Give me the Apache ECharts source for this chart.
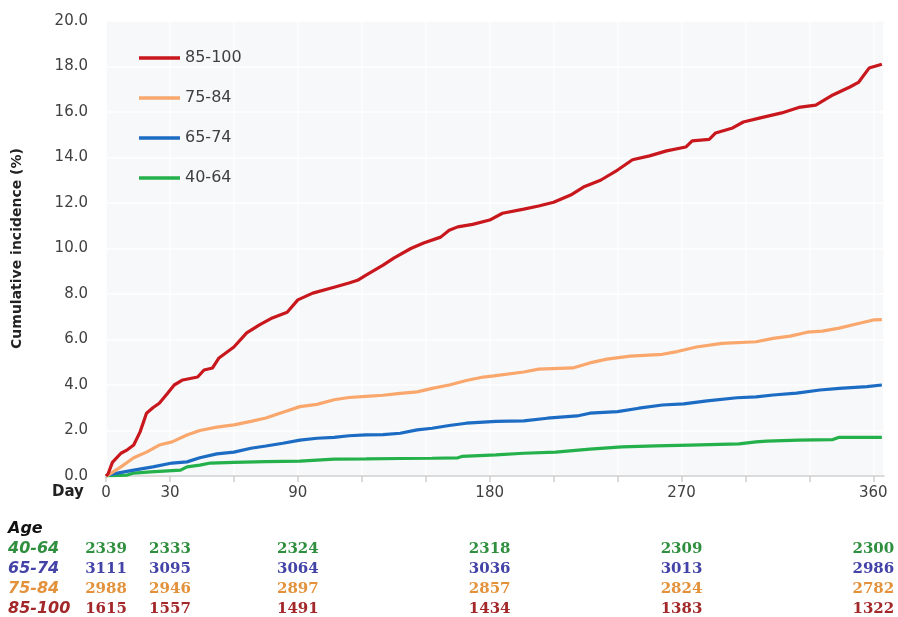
<!DOCTYPE html>
<html>
<head>
<meta charset="utf-8">
<script src="https://cdn.jsdelivr.net/npm/echarts@6/dist/echarts.min.js"></script>
<style>
  html, body { margin: 0; padding: 0; background: #fff; }
  #chart { width: 898px; height: 617px; }
</style>
</head>
<body>
<div id="chart"></div>
<script>
// cumulative incidence curves
const redDays = [0, 1, 3, 7, 10, 13, 16, 19, 22, 25, 29, 32, 36, 43, 46, 50, 53, 60, 66, 72, 78, 85, 90, 97, 107, 114, 118, 122, 130, 135, 143, 149, 157, 161, 165, 172, 180, 186, 196, 203, 210, 218, 224, 232, 240, 247, 255, 263, 272, 275, 283, 286, 294, 299, 307, 317, 325, 333, 341, 349, 353, 358, 364];
const redValues = [0, 0.1, 0.6, 1.0, 1.15, 1.36, 1.94, 2.76, 3.0, 3.2, 3.65, 4.0, 4.22, 4.35, 4.66, 4.75, 5.19, 5.67, 6.29, 6.64, 6.95, 7.2, 7.74, 8.04, 8.3, 8.48, 8.6, 8.83, 9.27, 9.58, 10.0, 10.24, 10.5, 10.8, 10.95, 11.06, 11.25, 11.55, 11.73, 11.87, 12.03, 12.35, 12.7, 13.0, 13.45, 13.9, 14.07, 14.29, 14.46, 14.73, 14.8, 15.08, 15.3, 15.56, 15.74, 15.96, 16.2, 16.3, 16.75, 17.1, 17.3, 17.93, 18.1];

const orangeDays = [0, 1, 7, 13, 19, 25, 31, 38, 44, 52, 60, 68, 75, 83, 91, 99, 107, 114, 122, 130, 138, 146, 153, 161, 169, 177, 182, 196, 203, 219, 227, 235, 246, 261, 268, 277, 289, 305, 313, 321, 329, 336, 344, 352, 360, 364];
const orangeValues = [0, 0.04, 0.4, 0.8, 1.05, 1.36, 1.5, 1.8, 2.0, 2.15, 2.25, 2.4, 2.55, 2.8, 3.05, 3.15, 3.35, 3.45, 3.5, 3.55, 3.63, 3.7, 3.85, 4.0, 4.2, 4.35, 4.4, 4.57, 4.7, 4.75, 4.97, 5.14, 5.27, 5.35, 5.47, 5.67, 5.83, 5.9, 6.05, 6.15, 6.32, 6.37, 6.5, 6.68, 6.86, 6.87];

const blueDays = [0, 1, 13, 22, 31, 38, 44, 52, 60, 68, 75, 83, 91, 99, 107, 114, 122, 130, 138, 146, 153, 161, 169, 177, 183, 196, 207, 221, 227, 240, 250, 261, 271, 282, 296, 305, 313, 324, 335, 344, 357, 364];
const blueValues = [0, 0.05, 0.26, 0.4, 0.57, 0.62, 0.8, 0.97, 1.05, 1.22, 1.32, 1.44, 1.58, 1.66, 1.7, 1.77, 1.81, 1.82, 1.88, 2.03, 2.1, 2.22, 2.32, 2.37, 2.4, 2.42, 2.54, 2.64, 2.76, 2.83, 2.98, 3.12, 3.17, 3.3, 3.44, 3.48, 3.56, 3.64, 3.78, 3.85, 3.93, 4.0];

const greenDays = [0, 10, 13, 21, 35, 38, 44, 49, 60, 75, 91, 99, 107, 122, 138, 153, 165, 167, 183, 196, 211, 227, 242, 258, 274, 297, 305, 310, 325, 341, 344, 364];
const greenValues = [0, 0.04, 0.13, 0.18, 0.26, 0.4, 0.48, 0.57, 0.6, 0.63, 0.65, 0.7, 0.74, 0.75, 0.77, 0.78, 0.8, 0.86, 0.93, 1.0, 1.05, 1.18, 1.28, 1.32, 1.36, 1.41, 1.5, 1.53, 1.58, 1.6, 1.7, 1.7];

// numbers at risk
const riskDays = [0, 30, 90, 180, 270, 360];
const risk4064 = [2339, 2333, 2324, 2318, 2309, 2300];
const risk6574 = [3111, 3095, 3064, 3036, 3013, 2986];
const risk7584 = [2988, 2946, 2897, 2857, 2824, 2782];
const risk85100 = [1615, 1557, 1491, 1434, 1383, 1322];

const groups = ["40-64", "65-74", "75-84", "85-100"];
const tableRows = ["Age"].concat(groups);
const xLabelDays = [0, 30, 90, 180, 270, 360];

const lineColors = { "40-64": "#24b04a", "65-74": "#1d6cc4", "75-84": "#f9a76d", "85-100": "#c8171d" };
const tableColors = { "40-64": "#2f8f3f", "65-74": "#4343a8", "75-84": "#e3923b", "85-100": "#a3282a" };

const zip = (d, v) => d.map((x, i) => [x, v[i]]);
const curves = {
  "40-64": zip(greenDays, greenValues),
  "65-74": zip(blueDays, blueValues),
  "75-84": zip(orangeDays, orangeValues),
  "85-100": zip(redDays, redValues),
};
const risks = { "40-64": risk4064, "65-74": risk6574, "75-84": risk7584, "85-100": risk85100 };

const font = "DejaVu Sans";

const chart = echarts.init(document.getElementById("chart"));

const lineSeries = groups.map((g) => ({
  name: g,
  type: "line",
  xAxisIndex: 0,
  yAxisIndex: 0,
  symbol: "none",
  data: curves[g],
  lineStyle: { color: lineColors[g], width: 3.2 },
  itemStyle: { color: lineColors[g] },
  z: 3,
}));

const riskSeries = groups.map((g) => ({
  name: "risk " + g,
  type: "scatter",
  xAxisIndex: 1,
  yAxisIndex: 1,
  symbolSize: 0,
  itemStyle: { opacity: 1, color: tableColors[g] },
  data: riskDays.map((d, i) => [d, g, risks[g][i]]),
  label: {
    show: true,
    position: "inside",
    opacity: 1,
    formatter: (p) => String(p.value[2]),
    color: tableColors[g],
    fontFamily: "DejaVu Serif",
    fontWeight: "bold",
    fontSize: 15,
  },
}));

const rich = { Age: { color: "#111", fontWeight: "bold", fontStyle: "italic", fontSize: 16, fontFamily: font } };
groups.forEach((g, i) => {
  rich["g" + i] = { color: tableColors[g], fontWeight: "bold", fontStyle: "italic", fontSize: 16, fontFamily: font };
});

chart.setOption({
  animation: false,
  grid: [
    { left: 106, right: 14, top: 21, bottom: 141, show: true, backgroundColor: "#f7f8f9", borderWidth: 0 },
    { left: 106, right: 14, top: 529, height: 80 },
  ],
  legend: {
    data: ["85-100", "75-84", "65-74", "40-64"],
    orient: "vertical",
    left: 139,
    top: 48,
    padding: 0,
    icon: "rect",
    itemWidth: 41,
    itemHeight: 3.5,
    itemGap: 20,
    textStyle: { color: "#404040", fontSize: 16, fontFamily: font, lineHeight: 20 },
  },
  xAxis: [
    {
      type: "value",
      gridIndex: 0,
      min: 0,
      max: 365,
      interval: 30,
      axisLine: { show: true, lineStyle: { color: "#cfcfcf", width: 1.5 } },
      axisTick: { show: true, length: 6, lineStyle: { color: "#cfcfcf", width: 1.5 } },
      splitLine: { show: true, lineStyle: { color: "#ffffff", width: 1.5 } },
      axisLabel: {
        color: "#404040",
        fontSize: 15,
        fontFamily: font,
        margin: 10,
        showMaxLabel: false,
        formatter: (v) => (xLabelDays.indexOf(v) >= 0 ? String(v) : ""),
      },
    },
    {
      type: "value",
      gridIndex: 1,
      min: 0,
      max: 365,
      show: false,
    },
  ],
  yAxis: [
    {
      type: "value",
      gridIndex: 0,
      min: 0,
      max: 20,
      interval: 2,
      name: "Cumulative incidence (%)",
      nameLocation: "middle",
      nameGap: 82,
      nameTextStyle: { color: "#222", fontSize: 14, fontWeight: "bold", fontFamily: font },
      axisLine: { show: false },
      axisTick: { show: false },
      splitLine: { show: true, lineStyle: { color: "#ffffff", width: 1.5 } },
      axisLabel: {
        color: "#404040",
        fontSize: 15,
        fontFamily: font,
        margin: 18,
        formatter: (v) => v.toFixed(1),
      },
    },
    {
      type: "category",
      gridIndex: 1,
      data: tableRows,
      inverse: true,
      boundaryGap: false,
      axisLine: { show: false },
      axisTick: { show: false },
      splitLine: { show: false },
      axisLabel: {
        align: "left",
        margin: 98,
        formatter: (v) => (v === "Age" ? "{Age|Age}" : "{g" + groups.indexOf(v) + "|" + v + "}"),
        rich: rich,
      },
    },
  ],
  graphic: [
    {
      type: "text",
      left: 52,
      top: 485,
      style: { text: "Day", fill: "#222", font: "bold 15px 'DejaVu Sans'" },
    },
  ],
  series: lineSeries.concat(riskSeries),
});
</script>
</body>
</html>
